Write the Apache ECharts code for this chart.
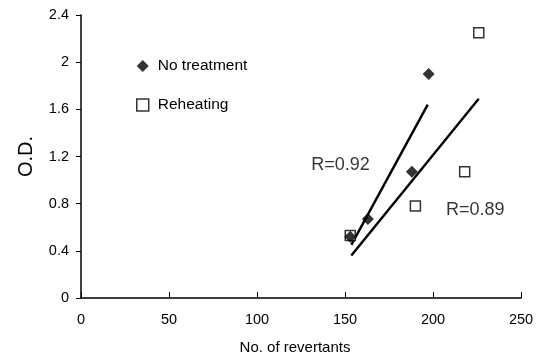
<!DOCTYPE html>
<html>
<head>
<meta charset="utf-8">
<script src="https://cdn.jsdelivr.net/npm/echarts@6/dist/echarts.min.js"></script>
<style>
  html, body { margin: 0; padding: 0; background: #fff; }
  #chart { width: 543px; height: 360px; }
</style>
</head>
<body>
<div id="chart"></div>
<script>
  // measured points
  var noTreatX = [153, 163, 188, 197.5];
  var noTreatY = [0.52, 0.67, 1.07, 1.9];
  var reheatX = [153, 190, 218, 226];
  var reheatY = [0.53, 0.78, 1.07, 2.25];

  // regression lines (end points)
  var fitNoTreatX = [153.6, 197];
  var fitNoTreatY = [0.45, 1.64];
  var fitReheatX = [153.6, 226];
  var fitReheatY = [0.36, 1.69];

  // R labels, placed in data coordinates
  var rText = ['R=0.92', 'R=0.89'];
  var rX = [147.5, 224];
  var rY = [1.13, 0.75];

  var xTicks = [0, 50, 100, 150, 200, 250];
  var yTicks = [0, 0.4, 0.8, 1.2, 1.6, 2, 2.4];

  function pairs(xs, ys) {
    return xs.map(function (x, i) { return [x, ys[i]]; });
  }

  var font = 'Liberation Sans, Arial, sans-serif';
  var chart = echarts.init(document.getElementById('chart'));

  chart.setOption({
    animation: false,
    backgroundColor: '#fff',
    textStyle: { fontFamily: font, color: '#000' },
    grid: { left: 81, right: 22, top: 15, bottom: 59 },
    legend: {
      orient: 'vertical',
      left: 131,
      top: 53,
      itemWidth: 12,
      itemHeight: 12,
      itemGap: 23,
      data: [
        { name: 'No treatment', icon: 'diamond', itemStyle: { color: '#000', borderWidth: 0 } },
        { name: 'Reheating', icon: 'rect', itemStyle: { color: '#fff', borderColor: '#000', borderWidth: 1.5 } }
      ],
      textStyle: { fontFamily: font, fontSize: 15.5, color: '#000', padding: [0, 0, 0, 4] }
    },
    xAxis: {
      type: 'value',
      min: xTicks[0],
      max: xTicks[xTicks.length - 1],
      interval: 50,
      name: 'No. of revertants',
      nameLocation: 'middle',
      nameGap: 42,
      nameTextStyle: { fontFamily: font, fontSize: 15, color: '#000', padding: [0, 12, 0, 0] },
      axisLine: { lineStyle: { color: '#000', width: 1.5 } },
      axisTick: { show: true, inside: true, length: 6, lineStyle: { color: '#000' } },
      axisLabel: { fontFamily: font, fontSize: 14.5, color: '#000', margin: 14 },
      splitLine: { show: false }
    },
    yAxis: {
      type: 'value',
      min: yTicks[0],
      max: yTicks[yTicks.length - 1],
      interval: 0.4,
      name: 'O.D.',
      nameLocation: 'middle',
      nameGap: 45,
      nameTextStyle: { fontFamily: font, fontSize: 20, color: '#000' },
      axisLine: { show: true, lineStyle: { color: '#000', width: 1.5 } },
      axisTick: { show: true, inside: false, length: 5, lineStyle: { color: '#000' } },
      axisLabel: { fontFamily: font, fontSize: 14.5, color: '#000', margin: 12 },
      splitLine: { show: false }
    },
    series: [
      {
        name: 'fit1',
        type: 'line',
        data: pairs(fitNoTreatX, fitNoTreatY),
        symbol: 'none',
        lineStyle: { color: '#000', width: 2.4 },
        z: 2
      },
      {
        name: 'fit2',
        type: 'line',
        data: pairs(fitReheatX, fitReheatY),
        symbol: 'none',
        lineStyle: { color: '#000', width: 2.4 },
        z: 2
      },
      {
        name: 'No treatment',
        type: 'scatter',
        data: pairs(noTreatX, noTreatY),
        symbol: 'diamond',
        symbolSize: 12,
        itemStyle: { color: '#000' },
        z: 4
      },
      {
        name: 'Reheating',
        type: 'scatter',
        data: pairs(reheatX, reheatY),
        symbol: 'rect',
        symbolSize: 10,
        itemStyle: { color: '#fff', borderColor: '#000', borderWidth: 1.5 },
        z: 3
      },
      {
        name: 'labels',
        type: 'scatter',
        symbolSize: 0,
        data: rText.map(function (t, i) { return { value: [rX[i], rY[i]], name: t }; }),
        label: {
          show: true,
          position: 'inside',
          formatter: function (p) { return p.name; },
          fontFamily: font,
          fontSize: 18,
          color: '#000'
        },
        silent: true,
        z: 5
      }
    ]
  });
</script>
</body>
</html>
